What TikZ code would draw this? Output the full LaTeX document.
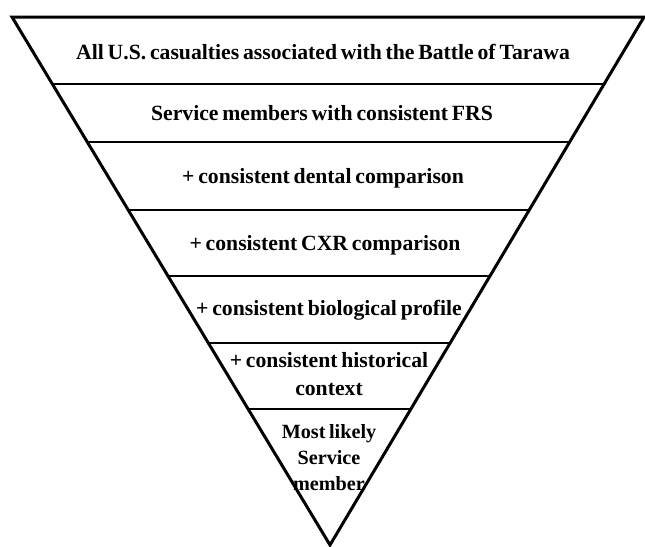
\documentclass[tikz,border=0pt]{standalone}
\usepackage{fontspec}
\setmainfont[WordSpace=0.7]{Liberation Serif}
\usetikzlibrary{calc}

\tikzset{
  band/.style={font=\bfseries\fontsize{21.7}{28}\selectfont, align=center, inner sep=0pt},
  tipband/.style={font=\bfseries\fontsize{20.2}{26}\selectfont, align=center, inner sep=0pt}
}

\begin{document}
\begin{tikzpicture}[x=1pt,y=-1pt]
\useasboundingbox (0,0) rectangle (645,546);
\coordinate (tl) at (12,17);
\coordinate (tr) at (644,17);
\coordinate (ap) at (330,545);

\draw[line width=3pt] (tl) -- (tr) -- (ap) -- cycle;

\foreach \t in {0.1269,0.2367,0.3655,0.4905,0.6174,0.7424}
  \draw[line width=2pt] ($(tl)!\t!(ap)$) -- ($(tr)!\t!(ap)$);

\node[band] (all) at (323,52) {All U.S. casualties associated with the Battle of Tarawa};
\node[band] (frs) at (322,113) {Service members with consistent FRS};
\node[band] (dental) at (323,178) {+ consistent dental comparison};
\node[band] (cxr) at (325,245) {+ consistent CXR comparison};
\node[band] (bio) at (329,310) {+ consistent biological profile};
\node[band] (hist) at (329,374) {+ consistent historical\\context};
\node[tipband] (most) at (329,458) {Most likely\\Service\\member};
\end{tikzpicture}
\end{document}
